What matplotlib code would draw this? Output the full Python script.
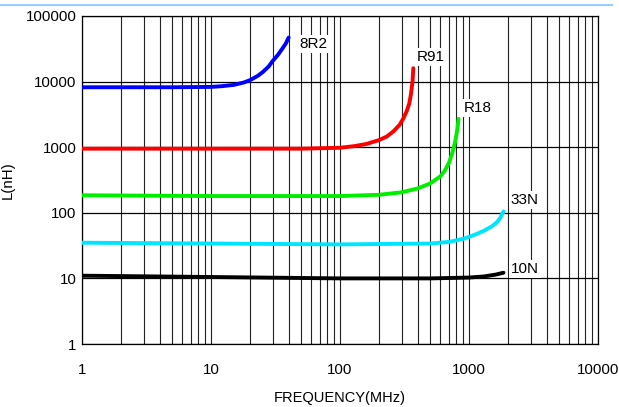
import numpy as np
import matplotlib
matplotlib.use("Agg")
import matplotlib.pyplot as plt
from matplotlib.lines import Line2D
from matplotlib.ticker import NullFormatter, FixedLocator

plt.rcParams['font.family'] = ['Liberation Sans', 'DejaVu Sans']

# curve data (MHz, nH)
freq_8r2 = [1, 5, 10, 12, 15, 18, 20, 23, 25, 28, 30, 33, 35, 38, 40]
L_8r2 = [8200, 8200, 8300, 8500, 8900, 9700, 10500, 12200, 13800, 17000,
         20500, 25500, 30000, 38000, 47000]

freq_r91 = [1, 10, 50, 100, 130, 160, 200, 230, 260, 290, 310, 330, 345, 355, 365, 370]
L_r91 = [950, 950, 950, 980, 1040, 1120, 1280, 1450, 1750, 2200, 2750, 3600,
         4700, 6500, 10000, 16000]

freq_r18 = [1, 10, 100, 200, 300, 400, 500, 600, 650, 700, 740, 780, 810, 830]
L_r18 = [185, 180, 180, 188, 205, 235, 280, 360, 440, 580, 800, 1200, 1800, 2700]

freq_33n = [1, 10, 100, 500, 700, 900, 1100, 1300, 1500, 1650, 1750, 1850]
L_33n = [35, 34, 33, 34, 36, 40, 46, 53, 62, 72, 84, 105]

freq_10n = [1, 10, 100, 500, 1000, 1300, 1600, 1850]
L_10n = [11, 10.5, 10, 10, 10.3, 10.7, 11.4, 12.2]

names = ['8R2', 'R91', 'R18', '33N', '10N']
colors = ['#0000ff', '#ff0000', '#00ee00', '#00e5ff', '#000000']
label_pos = [(48, 37000), (395, 23700), (915, 3960), (2105, 157), (2105, 13.8)]

x_ticks = [1, 10, 100, 1000, 10000]
x_ticklabels = ['1', '10', '100', '1000', '10000']
y_ticks = [1, 10, 100, 1000, 10000, 100000]
y_ticklabels = ['1', '10', '100', '1000', '10000', '100000']

fig = plt.figure(figsize=(6.19, 4.07), dpi=100)
ax = fig.add_axes([82/619, 1-344/407, (598-82)/619, (344-16)/407])
ax.set_xscale('log')
ax.set_yscale('log')
ax.set_xlim(1, 10000)
ax.set_ylim(1, 100000)

# grid: vertical at every minor step, horizontal only at decades
minor_x = [m*10**d for d in range(4) for m in range(1, 10)] + [10000]
for xv in minor_x:
    ax.axvline(xv, color='#222222', lw=0.8, zorder=1)
for yv in y_ticks:
    ax.axhline(yv, color='black', lw=0.9, zorder=1)

series = [(freq_8r2, L_8r2), (freq_r91, L_r91), (freq_r18, L_r18),
          (freq_33n, L_33n), (freq_10n, L_10n)]
for (f, L), c, n, (tx, ty) in zip(series, colors, names, label_pos):
    ax.plot(f, L, color=c, lw=2.8, solid_capstyle='round',
            solid_joinstyle='round', zorder=3)
    ax.text(tx, ty, n, fontsize=11, va='center', ha='left', zorder=4,
            bbox=dict(facecolor='white', edgecolor='none', pad=1.5))

ax.xaxis.set_major_locator(FixedLocator(x_ticks))
ax.set_xticklabels(x_ticklabels)
ax.xaxis.set_minor_formatter(NullFormatter())
ax.yaxis.set_major_locator(FixedLocator(y_ticks))
ax.set_yticklabels(y_ticklabels)
ax.yaxis.set_minor_formatter(NullFormatter())
ax.tick_params(which='both', length=0, labelsize=10.8)
ax.tick_params(axis='x', pad=14)
ax.tick_params(axis='y', pad=4)
for s in ax.spines.values():
    s.set_color('black')
    s.set_linewidth(0.9)

ax.set_xlabel('FREQUENCY(MHz)', fontsize=10.5, labelpad=10)
ax.set_ylabel('L(nH)', fontsize=10.8)
ax.yaxis.set_label_coords(-0.13, 0.5)

# thin light-blue rule along the top of the figure
fig.add_artist(Line2D([0, 612/619], [1-5/407, 1-5/407], color='#99ccff', lw=1.5))

fig.savefig('out.png', dpi=100)
